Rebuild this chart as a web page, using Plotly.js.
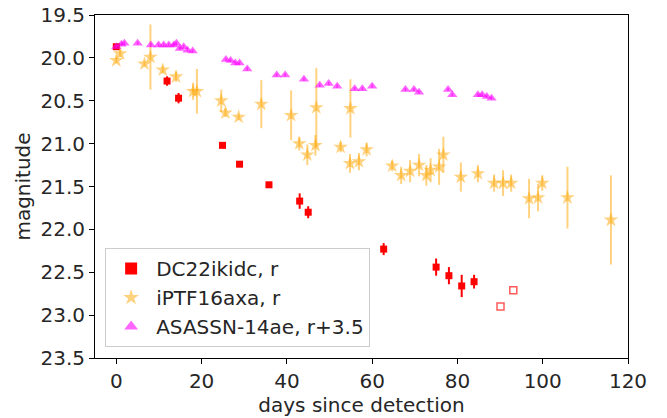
<!DOCTYPE html>
<html><head><meta charset="utf-8">
<script src="https://cdn.plot.ly/plotly-3.0.1.min.js"></script>
<style>body{margin:0;padding:0;background:#fff}#plot{width:667px;height:418px}</style>
</head><body><div id="plot"></div>
<script>
// DC22ikidc, r
const dcX = [0, 11.9, 14.6, 24.9, 28.9, 35.8, 43.0, 45.0, 62.7, 75.0, 78.0, 81.0, 83.9];
const dcY = [19.87, 20.27, 20.47, 21.02, 21.24, 21.48, 21.67, 21.80, 22.23, 22.44, 22.54, 22.66, 22.61];
const dcErr = [0.02, 0.055, 0.06, 0.02, 0.02, 0.02, 0.09, 0.07, 0.07, 0.1, 0.1, 0.13, 0.08];
// DC22ikidc upper limits (open squares)
const dcLimX = [90.1, 93.1];
const dcLimY = [22.90, 22.71];
// iPTF16axa, r
const ipX = [0, 0.9, 6.6, 8.0, 10.9, 14.0, 18.0, 18.9, 24.6, 25.6, 28.7, 34.0, 41.0, 42.9, 44.8, 46.7, 46.9, 52.6, 54.9, 54.8, 56.9, 58.7, 64.7, 66.8, 68.9, 71.0, 72.7, 73.7, 75.7, 76.7, 80.8, 84.8, 88.6, 90.7, 92.6, 96.8, 98.9, 99.9, 105.8, 116.0];
const ipY = [20.03, 19.95, 20.07, 19.99, 20.14, 20.22, 20.39, 20.39, 20.50, 20.64, 20.69, 20.54, 20.67, 21.00, 21.13, 21.02, 20.58, 21.04, 20.59, 21.23, 21.21, 21.07, 21.26, 21.37, 21.32, 21.25, 21.37, 21.31, 21.27, 21.13, 21.39, 21.35, 21.46, 21.46, 21.46, 21.64, 21.63, 21.46, 21.63, 21.89];
const ipErr = [0.03, 0.04, 0.03, 0.38, 0.04, 0.06, 0.1, 0.26, 0.13, 0.05, 0.03, 0.28, 0.29, 0.08, 0.12, 0.12, 0.46, 0.06, 0.34, 0.11, 0.1, 0.08, 0.06, 0.1, 0.13, 0.13, 0.12, 0.14, 0.21, 0.21, 0.17, 0.1, 0.1, 0.15, 0.1, 0.23, 0.16, 0.09, 0.36, 0.52];
// ASASSN-14ae, r+3.5
const asX = [0, 1.2, 1.9, 5.0, 8.1, 9.9, 11.1, 12.3, 13.5, 14.1, 14.9, 15.8, 16.7, 17.9, 25.7, 26.8, 27.9, 28.9, 30.7, 37.6, 39.6, 44.0, 47.7, 49.8, 51.8, 55.9, 57.7, 60.0, 67.8, 69.8, 71.0, 77.8, 78.8, 84.8, 85.8, 86.9, 88.0];
const asY = [19.87, 19.84, 19.83, 19.83, 19.85, 19.85, 19.85, 19.85, 19.85, 19.83, 19.89, 19.87, 19.91, 19.92, 20.02, 20.03, 20.06, 20.06, 20.13, 20.20, 20.20, 20.25, 20.32, 20.30, 20.33, 20.36, 20.36, 20.33, 20.37, 20.37, 20.40, 20.37, 20.43, 20.43, 20.43, 20.45, 20.47];
const asErr = asX.map(() => 0.02);

const traces = [
  {x: dcX, y: dcY, name: 'DC22ikidc, r', type: 'scatter', mode: 'markers',
   marker: {symbol: 'square', size: 7, color: '#ff0000'},
   error_y: {type: 'data', array: dcErr, visible: true, width: 0, thickness: 2, color: '#ff0000'}},
  {x: ipX, y: ipY, name: 'iPTF16axa, r', type: 'scatter', mode: 'markers',
   marker: {symbol: 'star', size: 11, color: 'rgba(255,165,0,0.5)', line: {width: 0}},
   error_y: {type: 'data', array: ipErr, visible: true, width: 0, thickness: 2, color: 'rgba(255,165,0,0.5)'}},
  {x: asX, y: asY, name: 'ASASSN-14ae, r+3.5', type: 'scatter', mode: 'markers',
   marker: {symbol: 'triangle-up', size: 9, color: 'rgba(255,0,255,0.6)', line: {width: 0}},
   error_y: {type: 'data', array: asErr, visible: true, width: 0, thickness: 1.5, color: 'rgba(255,0,255,0.6)'}},
  {x: dcLimX, y: dcLimY, name: 'limits', showlegend: false, type: 'scatter', mode: 'markers',
   marker: {symbol: 'square-open', size: 7, color: 'rgba(255,0,0,0.65)', line: {width: 1.5}}}
];

const F = 'DejaVu Sans';
const axisCommon = {
  showline: true, linecolor: '#000', linewidth: 1, mirror: true,
  ticks: 'outside', ticklen: 5, tickwidth: 1, tickcolor: '#000',
  showgrid: false, zeroline: false,
  tickfont: {family: F, size: 20, color: '#262626'}
};

const layout = {
  width: 667, height: 418,
  margin: {l: 95, r: 39, t: 15, b: 60},
  paper_bgcolor: '#fff', plot_bgcolor: '#fff',
  font: {family: F, color: '#262626'},
  showlegend: true,
  xaxis: Object.assign({}, axisCommon, {range: [-5, 120], dtick: 20, tick0: 0,
    title: {text: 'days since detection', font: {family: F, size: 20, color: '#262626'}, standoff: 2}}),
  yaxis: Object.assign({}, axisCommon, {range: [23.5, 19.5], dtick: 0.5, tick0: 19.5, tickformat: '.1f',
    title: {text: 'magnitude', font: {family: F, size: 20, color: '#262626'}, standoff: 4}}),
  legend: {x: 0.019, y: 0.032, xanchor: 'left', yanchor: 'bottom',
    bgcolor: 'rgba(255,255,255,0.8)', bordercolor: '#cccccc', borderwidth: 1,
    font: {family: F, size: 20, color: '#262626'}, itemsizing: 'constant', itemwidth: 40, tracegroupgap: 0}
};

Plotly.newPlot('plot', traces, layout, {displayModeBar: false, staticPlot: true});
</script>
</body></html>
